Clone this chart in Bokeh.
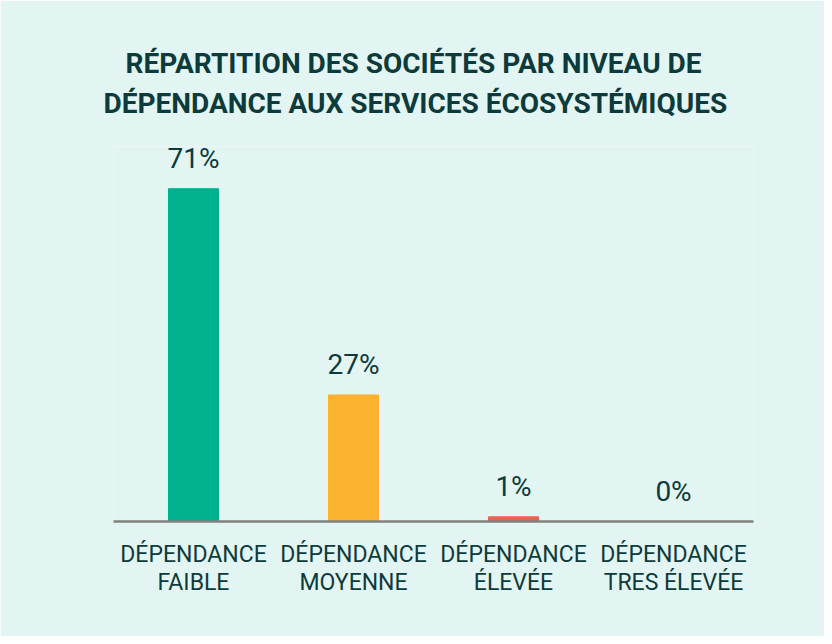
from bokeh.plotting import figure
from bokeh.models import ColumnDataSource, Title, FactorRange, Range1d
from bokeh.embed import file_html
from bokeh.resources import INLINE
from bokeh.core.properties import value

categories = ["DÉPENDANCE\nFAIBLE", "DÉPENDANCE\nMOYENNE", "DÉPENDANCE\nÉLEVÉE", "DÉPENDANCE\nTRES ÉLEVÉE"]
values = [71, 27, 1, 0]
value_labels = ["71%", "27%", "1%", "0%"]
colors = ["#00B18F", "#FBB32F", "#EE6150", "#E3F5F3"]
title_lines = ["RÉPARTITION DES SOCIÉTÉS PAR NIVEAU DE", "DÉPENDANCE AUX SERVICES ÉCOSYSTÉMIQUES"]

BG = "#E3F5F3"
DARK = "#0D3A3B"

src = ColumnDataSource(dict(cat=categories, val=values, lab=value_labels, col=colors))

p = figure(width=824, height=636, output_backend="svg", toolbar_location=None,
           title_location=None,
           x_range=FactorRange(*categories, range_padding=0),
           y_range=Range1d(0, 80), y_axis_location=None,
           min_border_left=113, min_border_right=71, min_border_top=146, min_border_bottom=115)
p.background_fill_color = BG
p.border_fill_color = BG
p.outline_line_color = None
p.xgrid.visible = False
p.ygrid.visible = False

p.vbar(x="cat", top="val", width=0.3125, color="col", source=src)
p.text(x="cat", y="val", text="lab", source=src, text_align="center", text_baseline="bottom",
       y_offset=-14, text_font=value("Roboto"), text_font_size="28px", text_color=DARK)

ax = p.xaxis[0]
ax.axis_line_color = "#808080"
ax.axis_line_width = 2.5
ax.major_tick_line_color = None
ax.minor_tick_line_color = None
ax.major_label_text_font = "Roboto"
ax.major_label_text_font_size = "23px"
ax.major_label_text_line_height = 1.05
ax.major_label_text_color = DARK
ax.major_label_standoff = 13

# spacer between frame and title block
p.add_layout(Title(text=" ", text_font_size="1px", standoff=21), "above")
# stacked outward from the frame: second line first
for line, off, so in [(title_lines[1], -10, 5), (title_lines[0], 12, 5)]:
    p.add_layout(Title(text=line, align="left", offset=off, standoff=so,
                       text_font="Roboto", text_font_style="bold", text_font_size="28px",
                       text_color=DARK), "above")

open("out.html", "w").write(file_html(p, INLINE))
